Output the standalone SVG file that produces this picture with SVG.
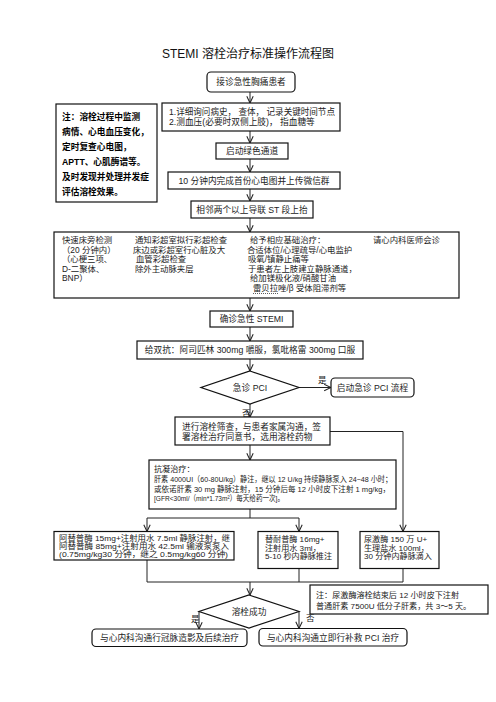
<svg xmlns="http://www.w3.org/2000/svg" width="496" height="702" viewBox="0 0 496 702">
<defs>
<marker id="arr" viewBox="0 0 10 10" refX="9.5" refY="5" markerWidth="8" markerHeight="8" markerUnits="userSpaceOnUse" orient="auto">
<path d="M1,1 L9.5,5 L1,9" fill="none" stroke="#222" stroke-width="1.3"/>
</marker>
<style>
text{font-family:"Liberation Sans","Noto Sans CJK SC",sans-serif;fill:#222;dominant-baseline:central}
.t{font-size:8.7px}
.g{font-size:8.4px}
.c{text-anchor:middle}
.s{font-size:8.1px}
.x{font-size:7.5px}
.b{font-size:8.7px;font-weight:bold;fill:#000}
.title{font-size:12px;text-anchor:middle;fill:#111}
rect,polygon{fill:#fff;stroke:#111;stroke-width:1.2}
.ln{fill:none;stroke:#222;stroke-width:1}
.ar{fill:none;stroke:#222;stroke-width:1;marker-end:url(#arr)}
.lab{font-size:8.5px}
</style>
</defs>
<rect x="0" y="0" width="496" height="702" style="fill:#fff;stroke:none"/>
<text class="title" x="248" y="54">STEMI 溶栓治疗标准操作流程图</text>

<g id="connectors">
<path class="ar" d="M250,92 V103"/>
<path class="ar" d="M250,131 V143"/>
<path class="ar" d="M250,159 V172"/>
<path class="ar" d="M250,189 V201"/>
<path class="ar" d="M250,218 V232"/>
<path class="ar" d="M250,298 V311"/>
<path class="ar" d="M250,327 V341"/>
<path class="ar" d="M250,359 V371"/>
<path class="ar" d="M299,387.5 H331"/>
<text class="lab" x="318" y="380">是</text>
<path class="ar" d="M250,404 V417"/>
<text class="lab" x="242" y="413">否</text>
<path class="ar" d="M250,445 V460"/>
<path class="ar" d="M330,431.5 H403 V531.5"/>
<path class="ln" d="M250,509 V518 M147,518 H299"/>
<path class="ar" d="M147,518 V531.5"/>
<path class="ar" d="M299,518 V531.5"/>
<path class="ln" d="M147,560 V582 M299,568.5 V582 M403,568.5 V582 M147,582 H403"/>
<path class="ar" d="M250,582 V595"/>
<path class="ar" d="M199,611.5 V629"/>
<text class="lab" x="191" y="619">是</text>
<path class="ar" d="M299,611.5 V628.5"/>
<text class="lab" x="306" y="618">否</text>
</g>

<g id="n1"><rect x="207" y="72" width="88" height="20" rx="4"/><text class="t c" x="251" y="82">接诊急性胸痛患者</text></g>
<g id="n2"><rect x="162" y="103" width="178" height="28"/>
<text class="t" x="169" y="112" textLength="166" lengthAdjust="spacingAndGlyphs">1.详细询问病史， 查体， 记录关键时间节点</text>
<text class="t" x="169" y="122">2.测血压(必要时双侧上肢)， 指血糖等</text></g>
<g id="note1"><rect x="56" y="104" width="101" height="98"/>
<text class="b" x="62" y="117">注：溶栓过程中监测</text>
<text class="b" x="62" y="132">病情、心电血压变化，</text>
<text class="b" x="62" y="147">定时复查心电图，</text>
<text class="b" x="62" y="162">APTT、心肌酶谱等。</text>
<text class="b" x="62" y="177">及时发现并处理并发症</text>
<text class="b" x="62" y="192">评估溶栓效果。</text></g>
<g id="n3"><rect x="216" y="143" width="72" height="16"/><text class="t c" x="252" y="151">启动绿色通道</text></g>
<g id="n4"><rect x="168" y="172" width="172" height="17"/><text class="t c" x="254" y="180.5">10 分钟内完成首份心电图并上传微信群</text></g>
<g id="n5"><rect x="191" y="201" width="122" height="17"/><text class="t c" x="252" y="209.5">相邻两个以上导联 ST 段上抬</text></g>
<g id="n6"><rect x="54" y="232" width="405" height="66"/>
<text class="g" x="62" y="240">快速床旁检测</text>
<text class="g" x="62" y="249.5">（20 分钟内）</text>
<text class="g" x="62" y="259">（心梗三项、</text>
<text class="g" x="62" y="268.5">D-二聚体、</text>
<text class="g" x="62" y="278">BNP）</text>
<text class="g" x="135" y="240">通知彩超室拟行彩超检查</text>
<text class="g" x="133" y="249.5">床边或彩超室行心脏及大</text>
<text class="g" x="136" y="259">血管彩超检查</text>
<text class="g" x="135" y="268.5">除外主动脉夹层</text>
<text class="g" x="250" y="240">给予相应基础治疗：</text>
<text class="g" x="247" y="249.5">合适体位/心理疏导/心电监护</text>
<text class="g" x="248" y="259">吸氧/镇静止痛等</text>
<text class="g" x="248" y="268.5">于患者左上肢建立静脉通道，</text>
<text class="g" x="250" y="278">给加镁极化液/硝酸甘油</text>
<text class="g" x="253" y="288">雷贝拉唑/β 受体阻滞剂等</text>
<path d="M253,293.5 H279" style="fill:none;stroke:#333;stroke-width:0.8;stroke-dasharray:1,1"/>
<text class="g" x="373" y="240">请心内科医师会诊</text></g>
<g id="n7"><rect x="210" y="311" width="83" height="16"/><text class="t c" x="251.5" y="319">确诊急性 STEMI</text></g>
<g id="n8"><rect x="137" y="341" width="226" height="18"/><text class="t c" x="250" y="350">给双抗：阿司匹林 300mg 嚼服，氯吡格雷 300mg 口服</text></g>
<g id="d1"><polygon points="250,371 299,387.5 250,404 201,387.5"/><text class="t c" x="250" y="387.5">急诊 PCI</text></g>
<g id="n9"><rect x="331" y="378" width="83" height="19" rx="4"/><text class="t c" x="372.5" y="387.5">启动急诊 PCI 流程</text></g>
<g id="n10"><rect x="175" y="417" width="155" height="28"/>
<text class="t" x="182" y="426.5">进行溶栓筛查，与患者家属沟通，签</text>
<text class="t" x="182" y="436.5">署溶栓治疗同意书，选用溶栓药物</text></g>
<g id="n11"><rect x="149" y="460" width="247" height="49"/>
<text class="s" x="154" y="469.5">抗凝治疗：</text>
<text class="s" x="154" y="479" textLength="238" lengthAdjust="spacingAndGlyphs">肝素 4000UI（60-80U/kg）静注，继以 12 U/kg 持续静脉泵入 24~48 小时；</text>
<text class="s" x="154" y="489" textLength="236" lengthAdjust="spacingAndGlyphs">或依诺肝素 30 mg 静脉注射，15 分钟后每 12 小时皮下注射 1 mg/kg，</text>
<text class="s" x="154" y="498.5" textLength="130" lengthAdjust="spacingAndGlyphs">[GFR&lt;30ml/（min*1.73m²）每天给药一次]。</text></g>
<g id="n12"><rect x="54" y="531.5" width="180" height="28.5"/>
<text class="x" x="59" y="538.5" textLength="171" lengthAdjust="spacingAndGlyphs">阿替普酶 15mg+注射用水 7.5ml 静脉注射，继</text>
<text class="x" x="59" y="546.3" textLength="170" lengthAdjust="spacingAndGlyphs">阿替普酶 85mg+注射用水 42.5ml 输液泵泵入</text>
<text class="x" x="59" y="554.1" textLength="169" lengthAdjust="spacingAndGlyphs">(0.75mg/kg30 分钟，继之 0.5mg/kg60 分钟)</text></g>
<g id="n13"><rect x="258" y="531.5" width="80" height="37"/>
<text class="s" x="265" y="539.5">替耐普酶 16mg+</text>
<text class="s" x="265" y="548">注射用水 3ml，</text>
<text class="s" x="265" y="556.5">5-10 秒内静脉推注</text></g>
<g id="n14"><rect x="360" y="531.5" width="79" height="37"/>
<text class="s" x="364" y="539.5">尿激酶 150 万 U+</text>
<text class="s" x="364" y="548">生理盐水 100ml，</text>
<text class="s" x="364" y="556.5">30 分钟内静脉滴入</text></g>
<g id="note2"><rect x="310" y="585" width="178" height="29"/>
<text class="s" x="316" y="595">注：尿激酶溶栓结束后 12 小时皮下注射</text>
<text class="s" x="316" y="606">普通肝素 7500U 低分子肝素，共 3～5 天。</text></g>
<g id="d2"><polygon points="249,595 299,611.5 249,628 199,611.5"/><text class="t c" x="249" y="611.5">溶栓成功</text></g>
<g id="n15"><rect x="92" y="629" width="155" height="17.5" rx="4"/><text class="t c" x="169.5" y="638">与心内科沟通行冠脉造影及后续治疗</text></g>
<g id="n16"><rect x="259" y="628.5" width="148" height="17.5" rx="4"/><text class="t c" x="333" y="637.5">与心内科沟通立即行补救 PCI 治疗</text></g>
</svg>
